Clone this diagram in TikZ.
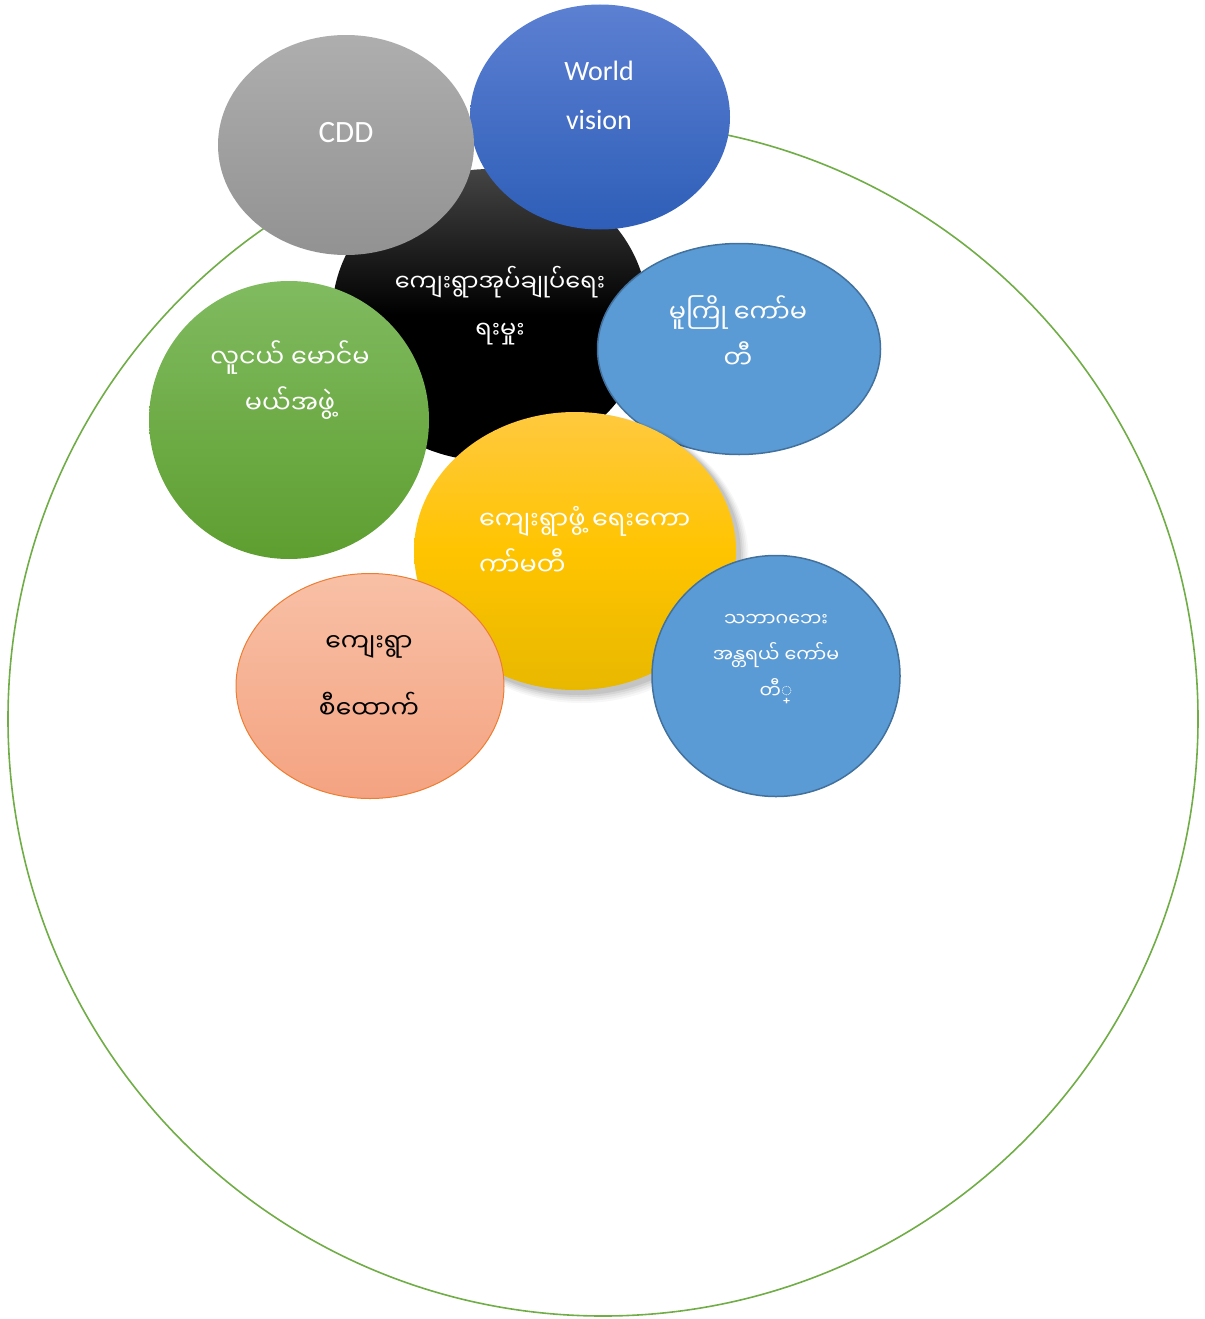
\documentclass[tikz,border=0pt]{standalone}
\usepackage{fontspec}
\setmainfont{Carlito}
\newfontfamily\mya[Script=Myanmar]{Noto Sans Myanmar UI}
\usetikzlibrary{shapes.geometric}
\definecolor{ringgreen}{HTML}{70AD47}
\definecolor{cddtop}{HTML}{AEAEAE}
\definecolor{cddbot}{HTML}{929292}
\definecolor{wvtop}{HTML}{5C80D2}
\definecolor{wvbot}{HTML}{2E5EB8}
\definecolor{blkTop}{HTML}{444444}
\definecolor{ltblue}{HTML}{5B9BD5}
\definecolor{ltblueedge}{HTML}{41719C}
\definecolor{grtop}{HTML}{80BB60}
\definecolor{grbot}{HTML}{5E9E30}
\definecolor{yltop}{HTML}{FFC93F}
\definecolor{ylmid}{HTML}{FFC400}
\definecolor{ylbot}{HTML}{E8B800}
\definecolor{satop}{HTML}{F8C0A6}
\definecolor{sabot}{HTML}{F4A381}
\definecolor{saedge}{HTML}{ED7D31}
\tikzset{
  bub/.style={ellipse, inner sep=0pt, outer sep=0pt},
  wlabel/.style={text=white, inner sep=0pt, align=center},
  mytxt/.style={font=\mya\fontsize{25.5}{46}\selectfont},
  lattxt/.style={font=\fontsize{28}{49}\selectfont},
}
\begin{document}
\begin{tikzpicture}[x=1pt,y=-1pt]
\useasboundingbox (0,0) rectangle (1204,1319);
% big ring
\node[bub, draw=ringgreen, line width=1.6pt, minimum width=1190pt, minimum height=1194pt] (ring) at (603,719) {};
% black
\node[bub, minimum width=316pt, minimum height=292pt, top color=blkTop, bottom color=black, middle color=black] (admin) at (490,315) {};
% world vision
\node[bub, minimum width=260pt, minimum height=225pt, top color=wvtop, bottom color=wvbot] (wv) at (600,117) {};
% CDD
\node[bub, minimum width=256pt, minimum height=220pt, top color=cddtop, bottom color=cddbot] (cdd) at (346,145) {};
% mukyo
\node[bub, fill=ltblue, draw=ltblueedge, line width=1.5pt, minimum width=283pt, minimum height=211pt] (muk) at (739,349) {};
% green
\node[bub, minimum width=280pt, minimum height=278pt, top color=grtop, bottom color=grbot] (youth) at (289,420) {};
% yellow shadow
\foreach \i/\o in {1/0.08,2/0.06,3/0.05,4/0.04,5/0.03}{
  \fill[black, opacity=\o] (578+\i*0.7,554+\i*0.8) ellipse ({161+\i*1.2} and {139+\i*1.2});
}
\node[bub, minimum width=322pt, minimum height=278pt, top color=yltop, bottom color=ylbot, middle color=ylmid] (dev) at (575,551) {};
% salmon
\node[bub, top color=satop, bottom color=sabot, draw=saedge, line width=1pt, minimum width=268pt, minimum height=225pt] (head) at (370,686) {};
% bottom right blue
\node[bub, fill=ltblue, draw=ltblueedge, line width=1.5pt, minimum width=248pt, minimum height=241pt] (dis) at (776,676) {};

% labels
\node[wlabel, font=\fontsize{31}{49}\selectfont] (cddl) at (346,133) {CDD};
\node[wlabel, lattxt] (wvl) at (599,95) {World\\vision};
\node[wlabel, font=\mya\fontsize{24}{47}\selectfont] (adminl) at (500,306) {ကျေးရွာအုပ်ချုပ်ရေး\\ရးမှုး};
\node[wlabel, mytxt] (youthl) at (290,380) {လူငယ် မောင်မ\\မယ်အဖွဲ့};
\node[wlabel, mytxt] (mukl) at (738,332) {မူကြို ကော်မ\\တီ};
\node[wlabel, mytxt, align=left, anchor=west] (devl) at (479,541) {ကျေးရွာဖွံ့ ရေးကော\\ကာ်မတီ};
\node[inner sep=0pt, align=center, text=black, font=\mya\fontsize{25}{67}\selectfont] (headl) at (369,677) {ကျေးရွာ\\စီထောက်};
\node[wlabel, font=\mya\fontsize{19}{36}\selectfont] (disl) at (776,659) {သဘာဂဘေး\\အန္တရယ် ကော်မ\\တီ◌္};
\end{tikzpicture}
\end{document}
